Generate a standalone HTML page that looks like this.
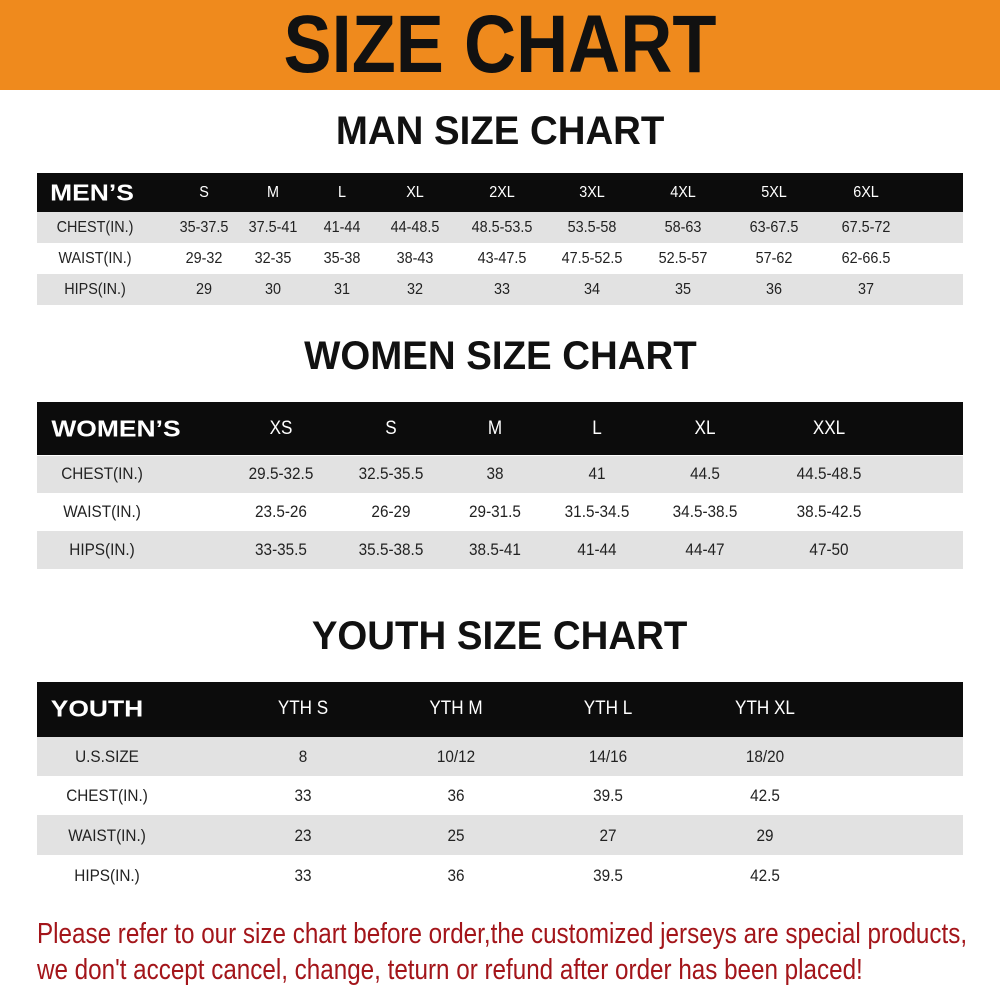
<!DOCTYPE html>
<html><head><meta charset="utf-8"><style>
body{margin:0;width:1000px;height:1000px;background:#fff;position:relative;overflow:hidden;font-family:"Liberation Sans",Arial,sans-serif}
.a{position:absolute}
.t{position:absolute;white-space:nowrap;transform:translate(-50%,-50%) scaleX(.9);color:#222;font-size:16px}
.h{color:#fff}
.bar{position:absolute;left:37px;width:926px}
.blk{background:#0c0c0c}
.gr{background:#e2e2e2}
.ttl{position:absolute;left:0;width:1000px;text-align:center;font-weight:bold;color:#111;white-space:nowrap}
.ttl span{display:inline-block;transform:scaleX(.96)}
.red{position:absolute;left:37px;white-space:nowrap;color:#a3151a;font-size:29px;transform-origin:0 50%}
</style></head><body>
<div class="a" style="left:0;top:0;width:1000px;height:90px;background:#ef8a1d"></div>
<div class="ttl" style="top:2px;font-size:82px;line-height:86px"><span style="transform:scaleX(.88)">SIZE CHART</span></div>

<div class="ttl" style="top:108px;font-size:40px;line-height:46px"><span>MAN SIZE CHART</span></div>
<div class="bar blk" style="top:173px;height:39px"></div>
<div class="bar gr" style="top:212px;height:31px"></div>
<div class="bar gr" style="top:274px;height:31px"></div>

<div class="ttl" style="top:333px;font-size:40px;line-height:46px"><span>WOMEN SIZE CHART</span></div>
<div class="bar blk" style="top:402px;height:53px"></div>
<div class="bar gr" style="top:456px;height:37px"></div>
<div class="bar gr" style="top:531px;height:38px"></div>

<div class="ttl" style="top:613px;font-size:40px;line-height:46px"><span>YOUTH SIZE CHART</span></div>
<div class="bar blk" style="top:682px;height:55px"></div>
<div class="bar gr" style="top:737px;height:39px"></div>
<div class="bar gr" style="top:815px;height:40px"></div>

<div id="c"></div>
<div class="red" style="top:918px;transform:scaleX(.835)">Please refer to our size chart before order,the customized jerseys are special products,</div>
<div class="red" style="top:954px;transform:scaleX(.835)">we don't accept cancel, change, teturn or refund after order has been placed!</div>
<script>
var c=document.getElementById('c'),h='';
function t(x,y,s,cls,st){h+='<div class="t '+(cls||'')+'" style="left:'+x+'px;top:'+y+'px;'+(st||'')+'">'+s+'</div>';}
var B='font-weight:bold;font-size:23px;transform:translate(-50%,-50%) scaleX(1.15)';
var mx=[204,273,342,415,502,592,683,774,866];
t(92,193,'MEN’S','h',B);
['S','M','L','XL','2XL','3XL','4XL','5XL','6XL'].forEach((s,i)=>t(mx[i],193,s,'h'));
var mr=[['CHEST(IN.)',228,['35-37.5','37.5-41','41-44','44-48.5','48.5-53.5','53.5-58','58-63','63-67.5','67.5-72']],
['WAIST(IN.)',259,['29-32','32-35','35-38','38-43','43-47.5','47.5-52.5','52.5-57','57-62','62-66.5']],
['HIPS(IN.)',290,['29','30','31','32','33','34','35','36','37']]];
mr.forEach(r=>{t(95,r[1],r[0]);r[2].forEach((v,i)=>t(mx[i],r[1],v));});
var wx=[281,391,495,597,705,829];
t(116,429,'WOMEN’S','h',B);
['XS','S','M','L','XL','XXL'].forEach((s,i)=>t(wx[i],429,s,'h','font-size:19px'));
[['CHEST(IN.)',474,['29.5-32.5','32.5-35.5','38','41','44.5','44.5-48.5']],
['WAIST(IN.)',512,['23.5-26','26-29','29-31.5','31.5-34.5','34.5-38.5','38.5-42.5']],
['HIPS(IN.)',550,['33-35.5','35.5-38.5','38.5-41','41-44','44-47','47-50']]].forEach(r=>{t(102,r[1],r[0],'','font-size:17px');r[2].forEach((v,i)=>t(wx[i],r[1],v,'','font-size:17px'));});
var yx=[303,456,608,765];
t(97,709,'YOUTH','h',B);
['YTH S','YTH M','YTH L','YTH XL'].forEach((s,i)=>t(yx[i],709,s,'h','font-size:19px'));
[['U.S.SIZE',757,['8','10/12','14/16','18/20']],['CHEST(IN.)',796,['33','36','39.5','42.5']],
['WAIST(IN.)',836,['23','25','27','29']],['HIPS(IN.)',876,['33','36','39.5','42.5']]].forEach(r=>{t(107,r[1],r[0],'','font-size:17px');r[2].forEach((v,i)=>t(yx[i],r[1],v,'','font-size:17px'));});
c.innerHTML=h;
</script>
</body></html>
